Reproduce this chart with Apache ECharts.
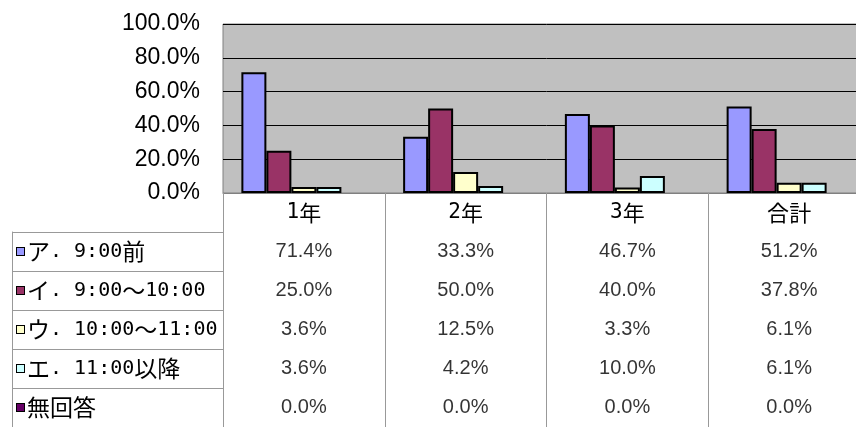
<!DOCTYPE html>
<html>
<head>
<meta charset="utf-8">
<script src="https://cdn.jsdelivr.net/npm/echarts@6/dist/echarts.min.js"></script>
<style>
  html, body { margin: 0; padding: 0; background: #fff; overflow: hidden; }
  #main { width: 870px; height: 427px; }
</style>
</head>
<body>
<div id="main"></div>
<script>
var categories = ['1年', '2年', '3年', '合計'];
var seriesNames = ['ア. 9:00前', 'イ. 9:00～10:00', 'ウ. 10:00～11:00', 'エ. 11:00以降', '無回答'];
var seriesColors = ['#9999FF', '#993366', '#FFFFCC', '#CCFFFF', '#660066'];
var valA = [71.4, 33.3, 46.7, 51.2];
var valI = [25.0, 50.0, 40.0, 37.8];
var valU = [3.6, 12.5, 3.3, 6.1];
var valE = [3.6, 4.2, 10.0, 6.1];
var valNone = [0.0, 0.0, 0.0, 0.0];
var yTicks = [0, 20, 40, 60, 80, 100];

var allValues = [valA, valI, valU, valE, valNone];
var myChart = echarts.init(document.getElementById('main'));

// 半角はa、全角はcのスタイルで書く
function jpRich(str) {
    return str.match(/[\x00-\x7F]+|[^\x00-\x7F]+/g).map(function (s) {
        return (/^[\x00-\x7F]/.test(s) ? '{a|' : '{c|') + s + '}';
    }).join('');
}

// 棒グラフ
var barSeries = allValues.map(function (vals, i) {
    return {
        name: seriesNames[i],
        type: 'bar',
        xAxisIndex: 0,
        yAxisIndex: 0,
        barWidth: 25,
        barGap: '0%',
        data: vals,
        itemStyle: {
            color: seriesColors[i],
            borderColor: '#000',
            borderWidth: i == 4 ? 0 : 2
        }
    };
});

// データテーブルのセル
var cells = [];
allValues.forEach(function (vals, r) {
    vals.forEach(function (v, c) {
        cells.push([c, r, v]);
    });
});

var rich = {
    a: { fontSize: 20, fontFamily: 'DejaVu Sans Mono', color: '#000' },
    c: { fontSize: 23, fontFamily: 'Noto Sans CJK JP', color: '#000' },
    sp: { width: 3 }
};
seriesColors.forEach(function (col, i) {
    rich['m' + i] = { width: 7, height: 7, backgroundColor: col, borderColor: '#000', borderWidth: 1 };
});

var option = {
    animation: false,
    textStyle: { fontFamily: 'Liberation Sans, Arial, sans-serif' },
    grid: [
        { left: 223, top: 24, right: 0, height: 169, show: true, backgroundColor: '#C0C0C0', borderColor: '#808080', borderWidth: 1 },
        { left: 223, top: 232, right: 0, height: 200 }
    ],
    xAxis: [
        {
            type: 'category',
            gridIndex: 0,
            data: categories,
            axisLine: { show: true, lineStyle: { color: '#808080', width: 1 } },
            axisTick: { show: true, length: 39, lineStyle: { color: '#999' } },
            axisLabel: {
                margin: 9,
                formatter: function (v) { return jpRich(v); },
                rich: {
                    a: { fontSize: 21, fontFamily: 'DejaVu Sans Mono', color: '#000' },
                    c: { fontSize: 22, fontFamily: 'Noto Sans CJK JP', color: '#000' }
                }
            }
        },
        {
            type: 'category',
            gridIndex: 1,
            data: categories,
            axisLine: { show: false },
            axisTick: { show: false },
            axisLabel: { show: false },
            splitLine: { show: true, lineStyle: { color: '#999', width: 1 } }
        }
    ],
    yAxis: [
        {
            type: 'value',
            gridIndex: 0,
            min: 0,
            max: 100,
            interval: 20,
            axisLine: { show: false },
            axisTick: { show: false },
            axisLabel: {
                fontSize: 23,
                color: '#000',
                margin: 23,
                formatter: function (v) { return yTicks.indexOf(v) >= 0 ? v.toFixed(1) + '%' : ''; }
            },
            splitLine: { show: true, lineStyle: { color: '#000', width: 1 } }
        },
        {
            type: 'category',
            gridIndex: 1,
            inverse: true,
            data: seriesNames,
            axisLine: { show: true, lineStyle: { color: '#999', width: 1 } },
            axisTick: { show: true, length: 211, lineStyle: { color: '#999' } },
            axisLabel: {
                align: 'left',
                margin: 206,
                formatter: function (v, idx) { return '{m' + idx + '|}{sp|}' + jpRich(v); },
                rich: rich
            }
        },
        {
            // テーブル左端の線
            type: 'category',
            gridIndex: 1,
            position: 'left',
            offset: 211,
            data: seriesNames,
            axisLine: { show: true, lineStyle: { color: '#999', width: 1 } },
            axisTick: { show: false },
            axisLabel: { show: false }
        }
    ],
    series: barSeries.concat([{
        name: 'table',
        type: 'scatter',
        xAxisIndex: 1,
        yAxisIndex: 1,
        symbolSize: 1,
        itemStyle: { color: 'rgba(0,0,0,0)' },
        data: cells,
        label: {
            show: true,
            position: 'inside',
            fontSize: 20,
            color: '#000',
            formatter: function (p) { return p.value[2].toFixed(1) + '%'; }
        }
    }])
};
myChart.setOption(option);
</script>
</body>
</html>
